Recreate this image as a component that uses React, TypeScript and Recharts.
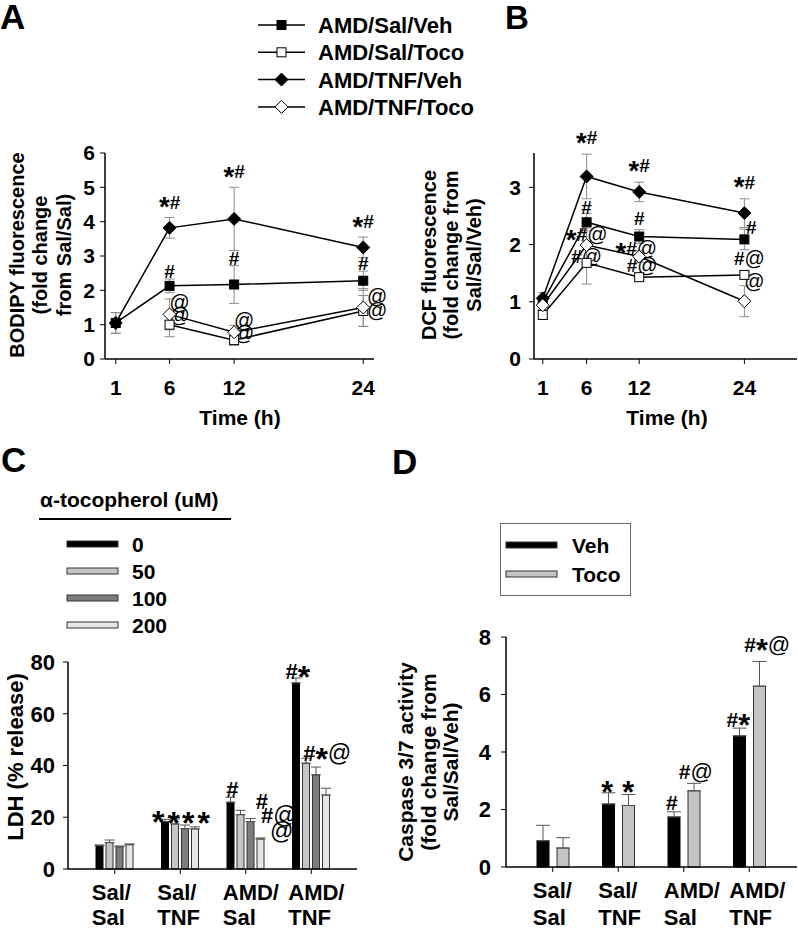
import React from "react";
import {
  LineChart,
  Line,
  BarChart,
  Bar,
  XAxis,
  YAxis,
  ErrorBar,
  ReferenceDot,
  Legend,
} from "recharts";

const FONT = "'Liberation Sans', Arial, Helvetica, sans-serif";

// ---- A / B : time course (h) ----
const hours = [1, 6, 12, 24];

// A: BODIPY fluorescence (fold change from Sal/Sal)
const bodipySalVeh = [1.05, 2.13, 2.17, 2.28];
const bodipySalVehSem = [0.3, 0.2, 0.55, 0.28];
const bodipySalToco = [null, 1.0, 0.55, 1.4];
const bodipySalTocoSem = [null, 0.35, 0.15, 0.45];
const bodipyTnfVeh = [1.05, 3.82, 4.08, 3.25];
const bodipyTnfVehSem = [0.3, 0.3, 0.92, 0.3];
const bodipyTnfToco = [null, 1.3, 0.78, 1.5];
const bodipyTnfTocoSem = [null, 0.45, 0.2, 0.55];
const bodipySalVehSig = ["", "#", "#", "#"];
const bodipySalTocoSig = ["", "@", "@", "@"];
const bodipyTnfVehSig = ["", "*#", "*#", "*#"];
const bodipyTnfTocoSig = ["", "@", "@", "@"];

// B: DCF fluorescence (fold change from Sal/Sal/Veh)
const dcfSalVeh = [1.0, 2.39, 2.14, 2.09];
const dcfSalVehSem = [0.1, 0.15, 0.12, 0.18];
const dcfSalToco = [0.77, 1.68, 1.43, 1.47];
const dcfSalTocoSem = [0.08, 0.37, 0.05, 0.06];
const dcfTnfVeh = [1.06, 3.19, 2.92, 2.55];
const dcfTnfVehSem = [0.1, 0.39, 0.17, 0.25];
const dcfTnfToco = [0.94, 1.99, 1.79, 1.01];
const dcfTnfTocoSem = [0.08, 0.3, 0.1, 0.27];
const dcfSalVehSig = ["", "#", "#", "#"];
const dcfSalTocoSig = ["", "#@", "#@", "#@"];
const dcfTnfVehSig = ["", "*#", "*#", "*#"];
const dcfTnfTocoSig = ["", "*#@", "*#@", "@"];

// ---- C / D : groups ----
const groups = ["Sal/Sal", "Sal/TNF", "AMD/Sal", "AMD/TNF"];

// C: LDH (% release) by alpha-tocopherol dose (uM)
const ldh0 = [9.0, 18.3, 25.8, 71.9];
const ldh0Sem = [0.3, 0.9, 1.9, 1.9];
const ldh50 = [10.2, 17.4, 21.0, 40.9];
const ldh50Sem = [1.0, 2.0, 1.7, 1.9];
const ldh100 = [8.6, 15.6, 18.3, 36.4];
const ldh100Sem = [0.3, 1.4, 1.2, 3.0];
const ldh200 = [9.4, 15.5, 11.6, 28.6];
const ldh200Sem = [0.3, 0.8, 0.4, 2.6];
const ldh0Sig = ["", "*", "#", "#*"];
const ldh50Sig = ["", "*", "#", "#*@"];
const ldh100Sig = ["", "*", "#@", ""];
const ldh200Sig = ["", "*", "@", ""];

// D: caspase 3/7 activity (fold change from Sal/Sal/Veh)
const casVeh = [0.91, 2.19, 1.74, 4.56];
const casVehSem = [0.54, 0.39, 0.18, 0.27];
const casToco = [0.66, 2.14, 2.65, 6.29];
const casTocoSem = [0.36, 0.38, 0.26, 0.86];
const casVehSig = ["", "*", "#", "#*"];
const casTocoSig = ["", "*", "#@", "#*@"];

type Num = number | null;
type MarkerKind = "square" | "diamond";
type TimeSeries = {
  key: string;
  name: string;
  kind: MarkerKind;
  filled: boolean;
  values: Num[];
  sem: Num[];
  sig: string[];
};
type Place = { anchor: "err" | "point"; dx: number; dy: number };
type BarSeries = {
  key: string;
  name: string;
  fill: string;
  values: number[];
  sem: number[];
  sig: string[];
};

const lineStyle = [
  { key: "salVeh", name: "AMD/Sal/Veh", kind: "square" as MarkerKind, filled: true },
  { key: "salToco", name: "AMD/Sal/Toco", kind: "square" as MarkerKind, filled: false },
  { key: "tnfVeh", name: "AMD/TNF/Veh", kind: "diamond" as MarkerKind, filled: true },
  { key: "tnfToco", name: "AMD/TNF/Toco", kind: "diamond" as MarkerKind, filled: false },
];

const bodipySeries: TimeSeries[] = [
  { ...lineStyle[0], values: bodipySalVeh, sem: bodipySalVehSem, sig: bodipySalVehSig },
  { ...lineStyle[1], values: bodipySalToco, sem: bodipySalTocoSem, sig: bodipySalTocoSig },
  { ...lineStyle[2], values: bodipyTnfVeh, sem: bodipyTnfVehSem, sig: bodipyTnfVehSig },
  { ...lineStyle[3], values: bodipyTnfToco, sem: bodipyTnfTocoSem, sig: bodipyTnfTocoSig },
];

const dcfSeries: TimeSeries[] = [
  { ...lineStyle[0], values: dcfSalVeh, sem: dcfSalVehSem, sig: dcfSalVehSig },
  { ...lineStyle[1], values: dcfSalToco, sem: dcfSalTocoSem, sig: dcfSalTocoSig },
  { ...lineStyle[2], values: dcfTnfVeh, sem: dcfTnfVehSem, sig: dcfTnfVehSig },
  { ...lineStyle[3], values: dcfTnfToco, sem: dcfTnfTocoSem, sig: dcfTnfTocoSig },
];

const ldhSeries: BarSeries[] = [
  { key: "d0", name: "0", fill: "#000000", values: ldh0, sem: ldh0Sem, sig: ldh0Sig },
  { key: "d50", name: "50", fill: "#c6c6c6", values: ldh50, sem: ldh50Sem, sig: ldh50Sig },
  { key: "d100", name: "100", fill: "#7d7d7d", values: ldh100, sem: ldh100Sem, sig: ldh100Sig },
  { key: "d200", name: "200", fill: "#e6e6e6", values: ldh200, sem: ldh200Sem, sig: ldh200Sig },
];

const casSeries: BarSeries[] = [
  { key: "veh", name: "Veh", fill: "#000000", values: casVeh, sem: casVehSem, sig: casVehSig },
  { key: "toco", name: "Toco", fill: "#c4c4c4", values: casToco, sem: casTocoSem, sig: casTocoSig },
];

// where the significance marks sit relative to the point / error bar top (px)
const placeA: Record<string, Place> = {
  salVeh: { anchor: "err", dx: 0, dy: 1 },
  salToco: { anchor: "point", dx: 10, dy: 0 },
  tnfVeh: { anchor: "err", dx: 0, dy: 9 },
  tnfToco: { anchor: "point", dx: 10, dy: 5 },
};
const nudgeA: Record<string, [number, number]> = {
  "salToco:1": [0, 3],
  "salToco:3": [4, -6],
  "tnfToco:3": [4, 0],
};
const placeB: Record<string, Place> = {
  salVeh: { anchor: "err", dx: 0, dy: 0 },
  salToco: { anchor: "point", dx: 0, dy: 0 },
  tnfVeh: { anchor: "err", dx: 0, dy: 10 },
  tnfToco: { anchor: "point", dx: 0, dy: 4 },
};
const nudgeB: Record<string, [number, number]> = {
  "salVeh:2": [0, 5],
  "salVeh:3": [7, -5],
  "salToco:2": [3, 5],
  "salToco:3": [5, 10],
  "tnfToco:2": [-3, -2],
  "tnfToco:3": [10, 9],
};
const nudgeC: Record<string, [number, number]> = {
  "d0:1": [-7, -5],
  "d50:1": [-1.5, -6],
  "d100:1": [3, 0],
  "d200:1": [8.5, 2],
  "d0:2": [1.5, 0],
  "d50:2": [21, 1.5],
  "d100:2": [28, -4.5],
  "d200:2": [21, -1],
  "d0:3": [1.5, -1],
  "d50:3": [21, -3],
};
const nudgeD: Record<string, [number, number]> = {
  "veh:1": [-1, -2],
  "toco:1": [0, 0],
  "veh:2": [-2, 1.5],
  "toco:2": [2, 4],
  "veh:3": [-1, 1],
  "toco:3": [8, 9],
};

const axisLine = { stroke: "#000", strokeWidth: 1.5 };
const tickLine = { stroke: "#000", strokeWidth: 1 };
const tickFont = (size: number) => ({
  fill: "#000",
  fontSize: size,
  fontWeight: "bold",
  fontFamily: FONT,
});

function Marker({
  cx,
  cy,
  kind,
  filled,
}: {
  cx: number | null | undefined;
  cy: number | null | undefined;
  kind: MarkerKind;
  filled: boolean;
}) {
  if (cx == null || cy == null || Number.isNaN(cy)) return <g />;
  const fill = filled ? "#000" : "#fff";
  if (kind === "square") {
    return (
      <rect x={cx - 4.5} y={cy - 4.5} width={9} height={9} fill={fill} stroke="#000" strokeWidth={1} />
    );
  }
  const h = 6.5;
  return (
    <polygon
      points={`${cx},${cy - h} ${cx + h},${cy} ${cx},${cy + h} ${cx - h},${cy}`}
      fill={fill}
      stroke="#000"
      strokeWidth={1}
    />
  );
}

// "#", "*" and "@" marks; the asterisk is drawn big and centred on the line
function SigText({ x, y, text, size }: { x: number; y: number; text: string; size: number }) {
  let shift = 0;
  const parts = text.split("").map((ch, i) => {
    const star = ch === "*";
    const target = star ? size * 0.4 : 0;
    const dy = target - shift;
    shift = target;
    return (
      <tspan
        key={i}
        dy={dy}
        fontSize={star ? size * 1.45 : ch === "@" ? size * 1.05 : size}
        fontWeight={ch === "@" ? "normal" : "bold"}
      >
        {ch}
      </tspan>
    );
  });
  return (
    <text x={x} y={y} textAnchor="middle" fontFamily={FONT} fill="#000">
      {parts}
    </text>
  );
}

function VTitle({
  cx,
  cy,
  lines,
  gap,
  size,
}: {
  cx: number;
  cy: number;
  lines: string[];
  gap: number;
  size: number;
}) {
  const n = lines.length;
  return (
    <text
      transform={`translate(${cx},${cy}) rotate(-90)`}
      textAnchor="middle"
      fontFamily={FONT}
      fontWeight="bold"
      fontSize={size}
      fill="#000"
    >
      {lines.map((l, i) => (
        <tspan key={i} x={0} y={(i - (n - 1) / 2) * gap + size * 0.36}>
          {l}
        </tspan>
      ))}
    </text>
  );
}

function SeriesLegend() {
  return (
    <svg width={240} height={116} style={{ display: "block", overflow: "visible" }}>
      {lineStyle.map((s, i) => {
        const cy = 17 + i * 27.3;
        return (
          <g key={s.key}>
            <line x1={8} x2={55} y1={cy} y2={cy} stroke="#000" strokeWidth={1.5} />
            <Marker cx={31.5} cy={cy} kind={s.kind} filled={s.filled} />
            <text x={68} y={cy + 8} fontFamily={FONT} fontWeight="bold" fontSize={22} fill="#000">
              {s.name}
            </text>
          </g>
        );
      })}
    </svg>
  );
}

function DoseLegend() {
  return (
    <svg width={240} height={160} style={{ display: "block", overflow: "visible" }}>
      <text x={10} y={27} fontFamily={FONT} fontWeight="bold" fontSize={21} fill="#000">
        α-tocopherol (uM)
      </text>
      <line x1={9} x2={201} y1={39} y2={39} stroke="#000" strokeWidth={2} />
      {ldhSeries.map((s, i) => {
        const cy = 64 + i * 27;
        return (
          <g key={s.key}>
            <rect x={37} y={cy - 3} width={51} height={6} fill={s.fill} stroke="#333" strokeWidth={1} />
            <text x={102} y={cy + 7.5} fontFamily={FONT} fontWeight="bold" fontSize={21} fill="#000">
              {s.name}
            </text>
          </g>
        );
      })}
    </svg>
  );
}

function VehLegend() {
  return (
    <svg width={131} height={73} style={{ display: "block", overflow: "visible" }}>
      <rect x={0.5} y={0.5} width={130} height={72} fill="#fff" stroke="#666" strokeWidth={1} />
      {casSeries.map((s, i) => {
        const cy = 22 + i * 29;
        return (
          <g key={s.key}>
            <rect x={6} y={cy - 3} width={51} height={6} fill={s.fill} stroke="#333" strokeWidth={1} />
            <text x={72} y={cy + 7.5} fontFamily={FONT} fontWeight="bold" fontSize={21} fill="#000">
              {s.name}
            </text>
          </g>
        );
      })}
    </svg>
  );
}

function CategoryTick(props: any) {
  const { x, y, payload, shift, gap1, gap2 } = props;
  const label = String(payload.value);
  const cut = label.indexOf("/") + 1;
  return (
    <text x={x + shift} y={y} textAnchor="start" fontFamily={FONT} fontWeight="bold" fontSize={22} fill="#000">
      <tspan x={x + shift} dy={gap1}>
        {label.slice(0, cut)}
      </tspan>
      <tspan x={x + shift} dy={gap2}>
        {label.slice(cut)}
      </tspan>
    </text>
  );
}

function TimeCourse({
  series,
  width,
  height,
  margin,
  yAxisWidth,
  xDomain,
  yDomain,
  yTicks,
  tickGap,
  place,
  nudge,
  sigSize,
  legend,
}: {
  series: TimeSeries[];
  width: number;
  height: number;
  margin: { top: number; right: number; bottom: number; left: number };
  yAxisWidth: number;
  xDomain: [number, number];
  yDomain: [number, number];
  yTicks: number[];
  tickGap: number;
  place: Record<string, Place>;
  nudge: Record<string, [number, number]>;
  sigSize: number;
  legend?: boolean;
}) {
  const rows = hours.map((t, i) => {
    const r: Record<string, Num> = { t };
    series.forEach((s) => {
      r[s.key] = s.values[i];
      r[`${s.key}Sem`] = s.sem[i];
    });
    return r;
  });

  const marks = series.flatMap((s) =>
    s.sig.map((txt, i) => {
      const v = s.values[i];
      if (!txt || v == null) return null;
      const pl = place[s.key];
      const [ndx, ndy] = nudge[`${s.key}:${i}`] ?? [0, 0];
      const anchor = pl.anchor === "err" ? v + (s.sem[i] ?? 0) : v;
      return (
        <ReferenceDot
          key={`${s.key}-sig-${i}`}
          x={hours[i]}
          y={anchor}
          r={0}
          ifOverflow="visible"
          shape={(p: any) => (
            <SigText x={p.cx + pl.dx + ndx} y={p.cy - pl.dy - ndy} text={txt} size={sigSize} />
          )}
        />
      );
    })
  );

  return (
    <LineChart width={width} height={height} data={rows} margin={margin}>
      <XAxis
        dataKey="t"
        type="number"
        domain={xDomain}
        ticks={hours}
        interval={0}
        height={40}
        tickSize={5}
        tickMargin={16}
        axisLine={axisLine}
        tickLine={tickLine}
        tick={tickFont(21)}
      />
      <YAxis
        type="number"
        domain={yDomain}
        ticks={yTicks}
        interval={0}
        width={yAxisWidth}
        tickSize={5}
        tickMargin={tickGap}
        axisLine={axisLine}
        tickLine={tickLine}
        tick={tickFont(21)}
      />
      {series.map((s) => (
        <Line
          key={s.key}
          dataKey={s.key}
          name={s.name}
          isAnimationActive={false}
          stroke="#000"
          strokeWidth={1.5}
          activeDot={false}
          dot={(p: any) => (
            <Marker
              key={`${s.key}-dot-${p.index}`}
              cx={p.cx}
              cy={p.value == null ? null : p.cy}
              kind={s.kind}
              filled={s.filled}
            />
          )}
        >
          <ErrorBar dataKey={`${s.key}Sem`} width={5} stroke="#8c8c8c" strokeWidth={1} direction="y" />
        </Line>
      ))}
      {marks}
      {legend && (
        <Legend
          layout="vertical"
          align="center"
          verticalAlign="middle"
          content={() => <SeriesLegend />}
          wrapperStyle={{ left: 250, top: 8, width: 240, height: 116 }}
        />
      )}
    </LineChart>
  );
}

function GroupBars({
  series,
  width,
  height,
  margin,
  yAxisWidth,
  xAxisHeight,
  yDomain,
  yTicks,
  tickGap,
  padding,
  barSize,
  barGap,
  errWidth,
  sigSize,
  nudge,
  labelShift,
  labelGaps,
  legend,
}: {
  series: BarSeries[];
  width: number;
  height: number;
  margin: { top: number; right: number; bottom: number; left: number };
  yAxisWidth: number;
  xAxisHeight: number;
  yDomain: [number, number];
  yTicks: number[];
  tickGap: number;
  padding: { left: number; right: number };
  barSize: number;
  barGap: number;
  errWidth: number;
  sigSize: number;
  nudge: Record<string, [number, number]>;
  labelShift: number;
  labelGaps: [number, number];
  legend: React.ReactElement;
}) {
  const rows = groups.map((g, i) => {
    const r: Record<string, any> = { group: g };
    series.forEach((s) => {
      r[s.key] = s.values[i];
      r[`${s.key}Err`] = [0, s.sem[i]];
    });
    return r;
  });

  const n = series.length;
  const marks = series.flatMap((s, si) =>
    s.sig.map((txt, i) => {
      if (!txt) return null;
      const off = (si - (n - 1) / 2) * (barSize + barGap);
      const [ndx, ndy] = nudge[`${s.key}:${i}`] ?? [0, 0];
      return (
        <ReferenceDot
          key={`${s.key}-sig-${i}`}
          x={groups[i]}
          y={s.values[i] + s.sem[i]}
          r={0}
          ifOverflow="visible"
          shape={(p: any) => <SigText x={p.cx + off + ndx} y={p.cy - ndy} text={txt} size={sigSize} />}
        />
      );
    })
  );

  return (
    <BarChart width={width} height={height} data={rows} margin={margin} barSize={barSize} barGap={barGap}>
      <XAxis
        dataKey="group"
        height={xAxisHeight}
        padding={padding}
        interval={0}
        tickSize={5}
        tickMargin={2}
        axisLine={axisLine}
        tickLine={tickLine}
        tick={(p: any) => <CategoryTick {...p} shift={labelShift} gap1={labelGaps[0]} gap2={labelGaps[1]} />}
      />
      <YAxis
        type="number"
        domain={yDomain}
        ticks={yTicks}
        interval={0}
        width={yAxisWidth}
        tickSize={5}
        tickMargin={tickGap}
        axisLine={axisLine}
        tickLine={tickLine}
        tick={tickFont(22)}
      />
      {series.map((s) => (
        <Bar
          key={s.key}
          dataKey={s.key}
          name={s.name}
          fill={s.fill}
          stroke={s.fill === "#000000" ? "#000" : "#333"}
          strokeWidth={1}
          isAnimationActive={false}
        >
          <ErrorBar dataKey={`${s.key}Err`} width={errWidth} stroke="#555" strokeWidth={1} direction="y" />
        </Bar>
      ))}
      {marks}
      {legend}
    </BarChart>
  );
}

export default function App() {
  return (
    <div
      style={{
        position: "absolute",
        left: 0,
        top: 0,
        width: 798,
        height: 928,
        background: "#fff",
        overflow: "hidden",
      }}
    >
      <svg width={798} height={928} style={{ position: "absolute", left: 0, top: 0 }}>
        <g fontFamily={FONT} fontWeight="bold" fill="#000">
          <text x={0} y={29} fontSize={35}>A</text>
          <text x={505} y={29} fontSize={33}>B</text>
          <text x={1} y={472} fontSize={35}>C</text>
          <text x={392} y={474} fontSize={35}>D</text>
          <text x={240} y={425} fontSize={21} textAnchor="middle">Time (h)</text>
          <text x={667} y={425} fontSize={21} textAnchor="middle">Time (h)</text>
        </g>
        <VTitle cx={40} cy={255} gap={23.5} size={20} lines={["BODIPY fluorescence", "(fold change", "from Sal/Sal)"]} />
        <VTitle cx={451} cy={255} gap={22.5} size={20} lines={["DCF fluorescence", "(fold change from", "Sal/Sal/Veh)"]} />
        <VTitle cx={15} cy={757} gap={22} size={22} lines={["LDH (% release)"]} />
        <VTitle
          cx={428}
          cy={762}
          gap={22.5}
          size={21}
          lines={["Caspase 3/7 activity", "(fold change from", "Sal/Sal/Veh)"]}
        />
      </svg>

      <div style={{ position: "absolute", left: 0, top: 0 }}>
        <TimeCourse
          series={bodipySeries}
          width={400}
          height={430}
          margin={{ top: 153, right: 26, bottom: 31, left: 65 }}
          yAxisWidth={40}
          xDomain={[0, 25]}
          yDomain={[0, 6]}
          yTicks={[0, 1, 2, 3, 4, 5, 6]}
          tickGap={5}
          place={placeA}
          nudge={nudgeA}
          sigSize={19}
          legend
        />
      </div>

      <div style={{ position: "absolute", left: 400, top: 0 }}>
        <TimeCourse
          series={dcfSeries}
          width={398}
          height={430}
          margin={{ top: 153, right: 1, bottom: 31, left: 94 }}
          yAxisWidth={40}
          xDomain={[0, 30]}
          yDomain={[0, 3.6]}
          yTicks={[0, 1, 2, 3]}
          tickGap={8}
          place={placeB}
          nudge={nudgeB}
          sigSize={19}
        />
      </div>

      <div style={{ position: "absolute", left: 0, top: 440 }}>
        <GroupBars
          series={ldhSeries}
          width={400}
          height={488}
          margin={{ top: 222, right: 43, bottom: 0, left: 20 }}
          yAxisWidth={48}
          xAxisHeight={59}
          yDomain={[0, 80]}
          yTicks={[0, 20, 40, 60, 80]}
          tickGap={8}
          padding={{ left: 14, right: 13 }}
          barSize={7}
          barGap={3}
          errWidth={5}
          sigSize={22}
          nudge={nudgeC}
          labelShift={-23}
          labelGaps={[24, 25]}
          legend={
            <Legend
              layout="vertical"
              align="center"
              verticalAlign="middle"
              content={() => <DoseLegend />}
              wrapperStyle={{ left: 30, top: 40, width: 240, height: 160 }}
            />
          }
        />
      </div>

      <div style={{ position: "absolute", left: 400, top: 440 }}>
        <GroupBars
          series={casSeries}
          width={398}
          height={488}
          margin={{ top: 197, right: 1, bottom: 0, left: 56 }}
          yAxisWidth={50}
          xAxisHeight={61}
          yDomain={[0, 8]}
          yTicks={[0, 2, 4, 6, 8]}
          tickGap={10}
          padding={{ left: 14, right: 15 }}
          barSize={12}
          barGap={8}
          errWidth={7}
          sigSize={21}
          nudge={nudgeD}
          labelShift={-20}
          labelGaps={[24, 27]}
          legend={
            <Legend
              layout="vertical"
              align="center"
              verticalAlign="middle"
              content={() => <VehLegend />}
              wrapperStyle={{ left: 100, top: 83, width: 131, height: 73 }}
            />
          }
        />
      </div>
    </div>
  );
}
